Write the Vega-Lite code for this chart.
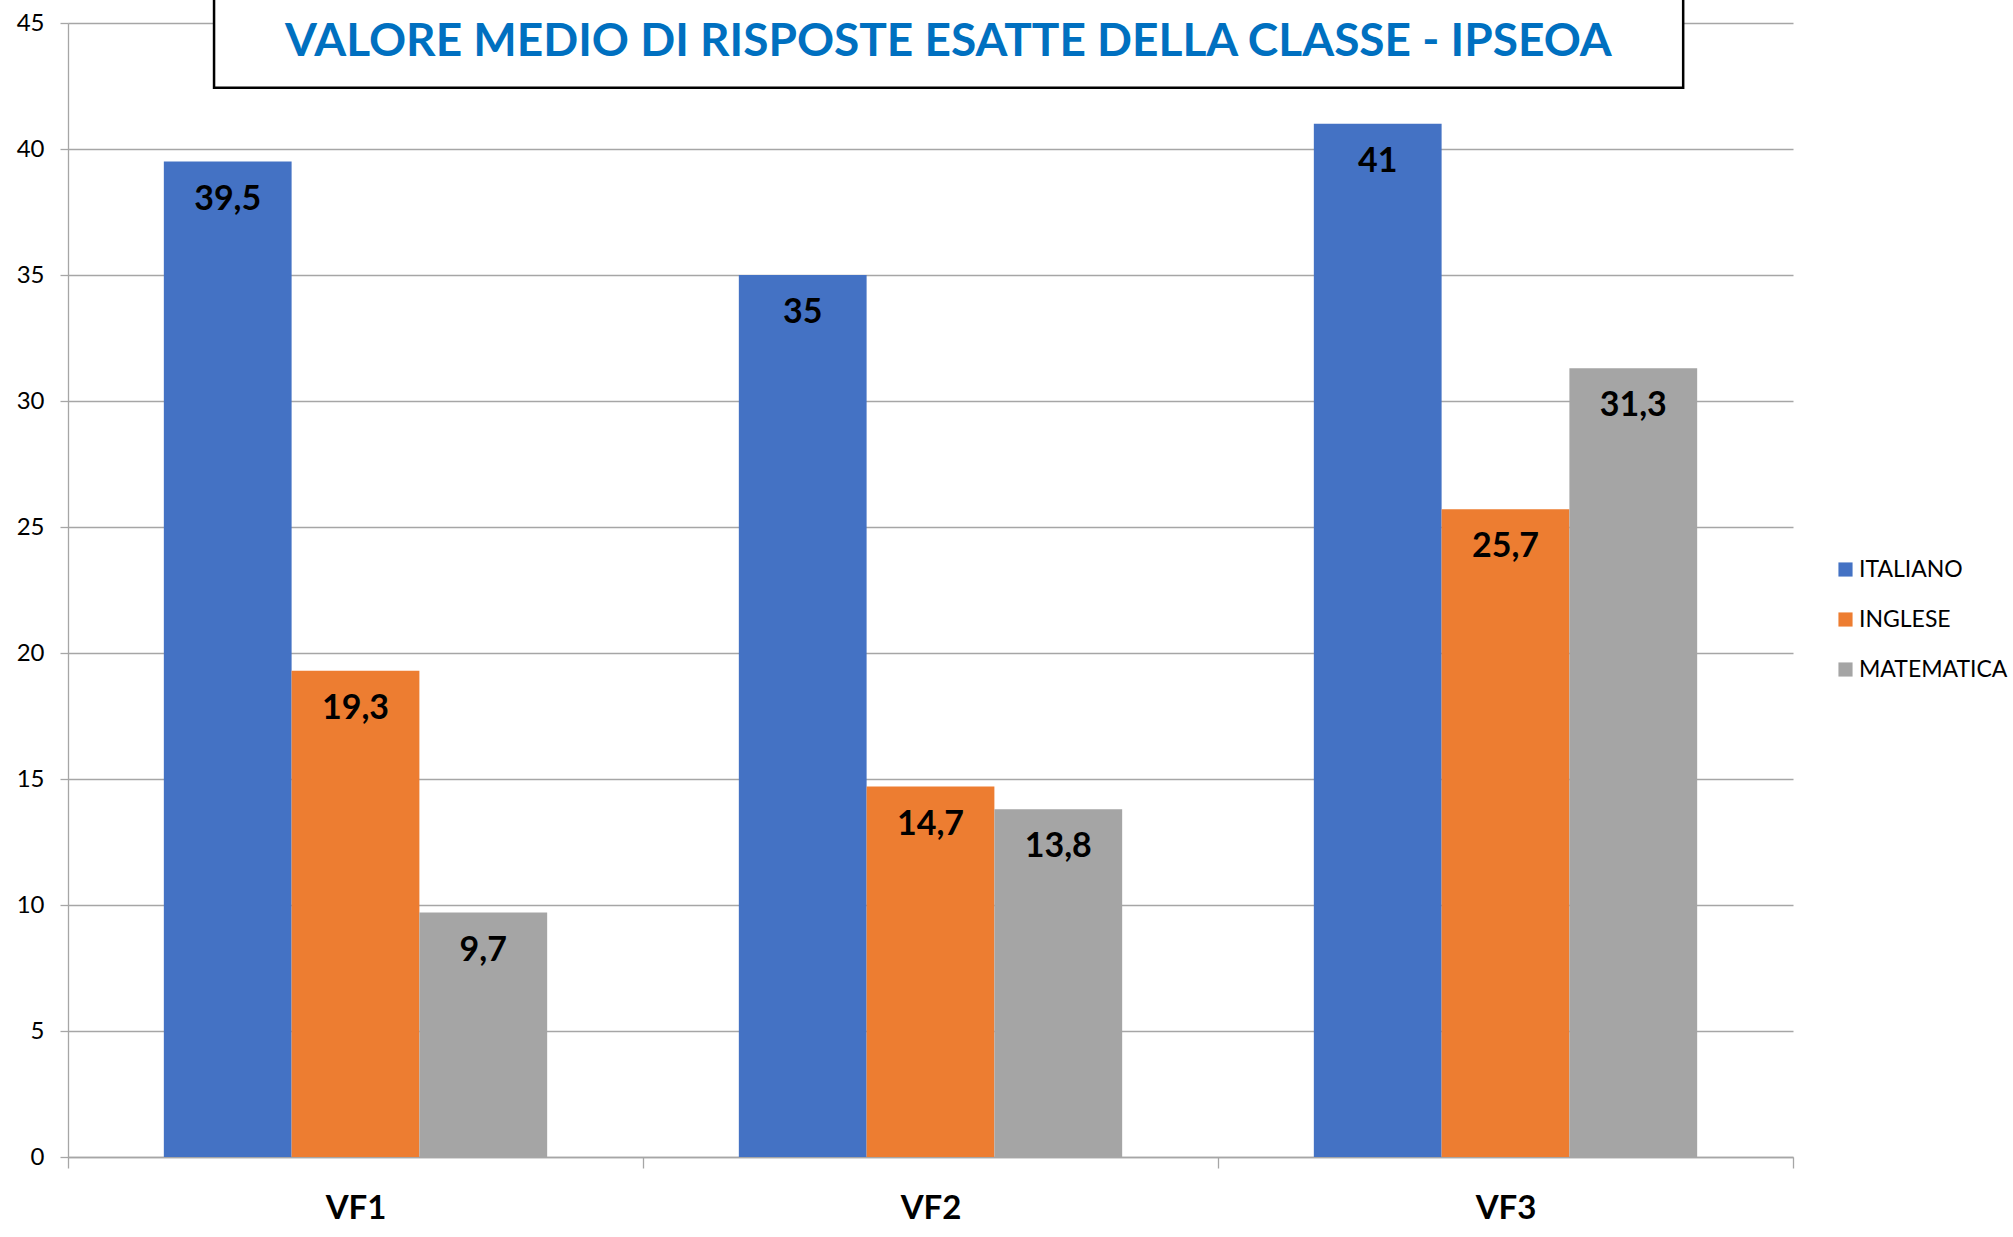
{
  "$schema": "https://vega.github.io/schema/vega-lite/v6.json",
  "width": 1725,
  "height": 1134,
  "autosize": {"type": "none"},
  "padding": {"left": 68, "top": 23, "right": 220, "bottom": 80},
  "config": {
    "font": "Lato",
    "view": {"stroke": null},
    "locale": {"number": {"decimal": ",", "thousands": ".", "grouping": [3], "currency": ["", " €"]}}
  },
  "data": {
    "values": [
      {"vf": "VF1", "materia": "ITALIANO", "valore": 39.5},
      {"vf": "VF1", "materia": "INGLESE", "valore": 19.3},
      {"vf": "VF1", "materia": "MATEMATICA", "valore": 9.7},
      {"vf": "VF2", "materia": "ITALIANO", "valore": 35},
      {"vf": "VF2", "materia": "INGLESE", "valore": 14.7},
      {"vf": "VF2", "materia": "MATEMATICA", "valore": 13.8},
      {"vf": "VF3", "materia": "ITALIANO", "valore": 41},
      {"vf": "VF3", "materia": "INGLESE", "valore": 25.7},
      {"vf": "VF3", "materia": "MATEMATICA", "valore": 31.3}
    ]
  },
  "layer": [
    {
      "mark": {"type": "bar", "clip": false},
      "encoding": {
        "x": {
          "field": "vf", "type": "nominal", "sort": ["VF1", "VF2", "VF3"],
          "scale": {"paddingInner": 0, "paddingOuter": 0},
          "axis": {
            "title": null, "labelAngle": 0, "labelFontSize": 33, "labelFontWeight": "bold",
            "labelColor": "#000000", "tickBand": "extent", "tickSize": 11, "tickColor": "#a6a6a6",
            "tickWidth": 1.3, "domainColor": "#a6a6a6", "domainWidth": 1.3, "grid": false,
            "labelBaseline": "middle", "labelPadding": 40
          }
        },
        "xOffset": {
          "field": "materia", "type": "nominal", "sort": ["ITALIANO", "INGLESE", "MATEMATICA"],
          "scale": {"paddingInner": 0, "paddingOuter": 0.75}
        },
        "y": {
          "field": "valore", "type": "quantitative",
          "scale": {"domain": [0, 45], "nice": false},
          "axis": {
            "title": null, "values": [0, 5, 10, 15, 20, 25, 30, 35, 40, 45],
            "labelFontSize": 24, "labelColor": "#000000", "labelPadding": 16,
            "tickSize": 8, "tickColor": "#a6a6a6", "tickWidth": 1.3,
            "domainColor": "#a6a6a6", "domainWidth": 1.3,
            "grid": true, "gridColor": "#a6a6a6", "gridWidth": 1.3
          }
        },
        "color": {
          "field": "materia", "type": "nominal",
          "scale": {"domain": ["ITALIANO", "INGLESE", "MATEMATICA"], "range": ["#4472C4", "#ED7D31", "#A5A5A5"]},
          "legend": {
            "title": null, "orient": "none", "legendX": 1766, "legendY": 535,
            "symbolType": "square", "symbolSize": 200, "symbolStrokeWidth": 0,
            "labelFontSize": 23, "labelColor": "#000000", "labelOffset": 2,
            "rowPadding": 26, "padding": 0
          }
        }
      }
    },
    {
      "mark": {"type": "text", "fontSize": 34, "fontWeight": "bold", "color": "#000000", "baseline": "middle", "dy": 38},
      "encoding": {
        "x": {"field": "vf", "type": "nominal", "sort": ["VF1", "VF2", "VF3"]},
        "xOffset": {"field": "materia", "type": "nominal", "sort": ["ITALIANO", "INGLESE", "MATEMATICA"]},
        "y": {"field": "valore", "type": "quantitative"},
        "text": {"field": "valore", "type": "quantitative", "format": "~g"}
      }
    },
    {
      "data": {"values": [{}]},
      "mark": {"type": "rect", "fill": "#ffffff", "stroke": "#000000", "strokeWidth": 2.5, "clip": false},
      "encoding": {
        "x": {"datum": "VF1", "type": "nominal", "bandPosition": 0.254},
        "x2": {"datum": "VF3", "bandPosition": 0.809},
        "y": {"datum": 48, "type": "quantitative"},
        "y2": {"datum": 42.43}
      }
    },
    {
      "data": {"values": [{}]},
      "mark": {"type": "text", "text": "VALORE MEDIO DI RISPOSTE ESATTE DELLA CLASSE - IPSEOA", "fontSize": 46, "fontWeight": "bold", "color": "#0070C0", "baseline": "middle", "align": "center"},
      "encoding": {
        "x": {"datum": "VF2", "type": "nominal", "bandPosition": 0.531},
        "y": {"datum": 44.24, "type": "quantitative"}
      }
    }
  ]
}
